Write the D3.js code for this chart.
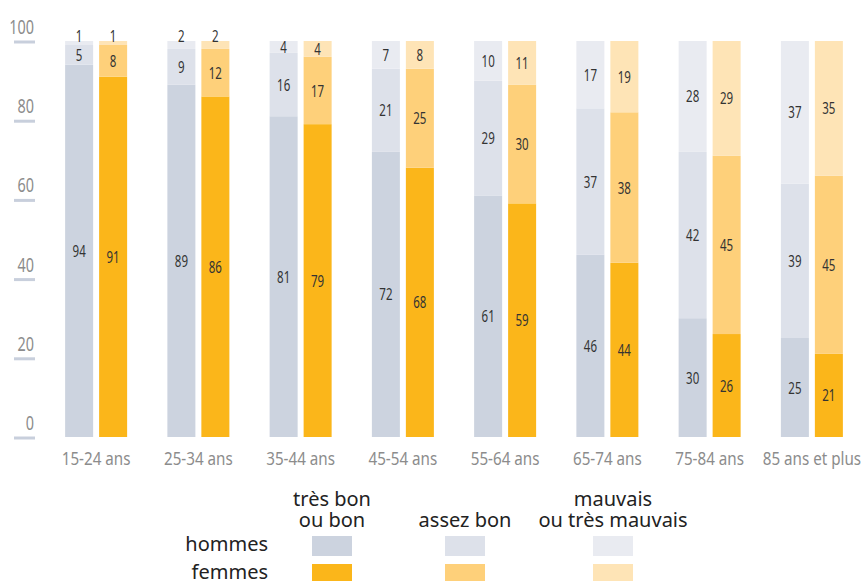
<!DOCTYPE html>
<html>
<head>
<meta charset="utf-8">
<script src="https://d3js.org/d3.v7.min.js"></script>
<style>
  body { margin: 0; background: #fff; }
  svg text { font-family: "Noto Sans", "Open Sans", sans-serif; }
</style>
</head>
<body>
<div id="chart"></div>
<script>
// age groups and tick labels
var groups = ["15-24 ans", "25-34 ans", "35-44 ans", "45-54 ans", "55-64 ans", "65-74 ans", "75-84 ans", "85 ans et plus"]
var yTicks = [0, 20, 40, 60, 80, 100]

// hommes : très bon ou bon / assez bon / mauvais ou très mauvais (%)
var hommesBon = [94, 89, 81, 72, 61, 46, 30, 25]
var hommesAssez = [5, 9, 16, 21, 29, 37, 42, 39]
var hommesMauvais = [1, 2, 4, 7, 10, 17, 28, 37]

// femmes
var femmesBon = [91, 86, 79, 68, 59, 44, 26, 21]
var femmesAssez = [8, 12, 17, 25, 30, 38, 45, 45]
var femmesMauvais = [1, 2, 4, 8, 11, 19, 29, 35]

var sexes = ["hommes", "femmes"]
var levels = ["très bon\nou bon", "assez bon", "mauvais\nou très mauvais"]
var colors = {
  hommes: ["#ccd3df", "#dde1ea", "#e9ebf1"],
  femmes: ["#fbb61a", "#fed07a", "#fee4b6"]
}

var width = 861, height = 581

var svg = d3.select("#chart").append("svg")
  .attr("width", width)
  .attr("height", height)

var y = d3.scaleLinear().domain([0, 100]).range([437, 41]).clamp(true)
var x0 = d3.scaleBand().domain(groups).range([45, 863])
var x1 = d3.scaleBand().domain(sexes)
  .range([x0.bandwidth() / 2 - 31, x0.bandwidth() / 2 + 31])
  .paddingInner(0.176)

// condensed text : squeeze horizontally
function narrow(sel, sx) {
  return sel.attr("transform", function (d) {
    return "translate(" + d.tx + "," + d.ty + ") scale(" + sx + ",1)"
  })
}

// build stacked rows
var rows = []
groups.forEach(function (g, i) {
  var series = {
    hommes: [hommesBon[i], hommesAssez[i], hommesMauvais[i]],
    femmes: [femmesBon[i], femmesAssez[i], femmesMauvais[i]]
  }
  sexes.forEach(function (s) {
    var acc = 0
    series[s].forEach(function (v, k) {
      rows.push({ group: g, sex: s, level: k, value: v, y0: acc, y1: acc + v })
      acc += v
    })
  })
})

// y axis : labels with short underlines
var axis = svg.append("g")
axis.selectAll("line").data(yTicks).enter().append("line")
  .attr("x1", 14).attr("x2", 35)
  .attr("y1", function (d) { return y(d) + 1 })
  .attr("y2", function (d) { return y(d) + 1 })
  .attr("stroke", "#c8cfdc")
  .attr("stroke-width", 3)
axis.selectAll("text")
  .data(yTicks.map(function (t) { return { v: t, tx: 34, ty: y(t) - 7 } }))
  .enter().append("text")
  .call(narrow, 0.72)
  .attr("text-anchor", "end")
  .style("font-size", "20px")
  .style("fill", "#8c8c8c")
  .text(function (d) { return d.v })

// bars
var bars = svg.append("g")
bars.selectAll("rect").data(rows).enter().append("rect")
  .attr("x", function (d) { return x0(d.group) + x1(d.sex) })
  .attr("width", x1.bandwidth())
  .attr("y", function (d) { return y(d.y1) })
  .attr("height", function (d) { return y(d.y0) - y(d.y1) })
  .attr("fill", function (d) { return colors[d.sex][d.level] })

// value labels (tiny top segments get their label sitting on the bar top)
rows.forEach(function (d) {
  d.tx = x0(d.group) + x1(d.sex) + x1.bandwidth() / 2
  d.ty = d.value <= 2 ? y(d.y1) + 1 : (y(d.y0) + y(Math.min(d.y1, 100))) / 2 + 6
})
bars.selectAll("text").data(rows).enter().append("text")
  .call(narrow, 0.72)
  .attr("text-anchor", "middle")
  .style("font-size", "16px")
  .style("fill", "#333")
  .text(function (d) { return d.value })

// x labels
svg.append("g").selectAll("text")
  .data(groups.map(function (g) { return { g: g, tx: x0(g) + x0.bandwidth() / 2, ty: 465 } }))
  .enter().append("text")
  .call(narrow, 0.8)
  .attr("text-anchor", "middle")
  .style("font-size", "19px")
  .style("fill", "#8c8c8c")
  .text(function (d) { return d.g })

// legend
var legend = svg.append("g")
var colX = [332, 465, 613]
levels.forEach(function (lab, k) {
  var lines = lab.split("\n")
  var t = legend.append("text")
    .attr("x", colX[k])
    .attr("text-anchor", "middle")
    .style("font-size", "20px")
    .style("fill", "#222")
  lines.forEach(function (l, j) {
    t.append("tspan")
      .attr("x", colX[k])
      .attr("y", 527 - (lines.length - 1 - j) * 21)
      .text(l)
  })
})
var rowY = { hommes: 536, femmes: 564 }
sexes.forEach(function (s) {
  legend.append("text")
    .attr("x", 268)
    .attr("y", rowY[s] + 15)
    .attr("text-anchor", "end")
    .style("font-size", "20px")
    .style("fill", "#222")
    .text(s)
  colors[s].forEach(function (c, k) {
    legend.append("rect")
      .attr("x", colX[k] - 20)
      .attr("y", rowY[s])
      .attr("width", 40)
      .attr("height", 20)
      .attr("fill", c)
  })
})
</script>
</body>
</html>
